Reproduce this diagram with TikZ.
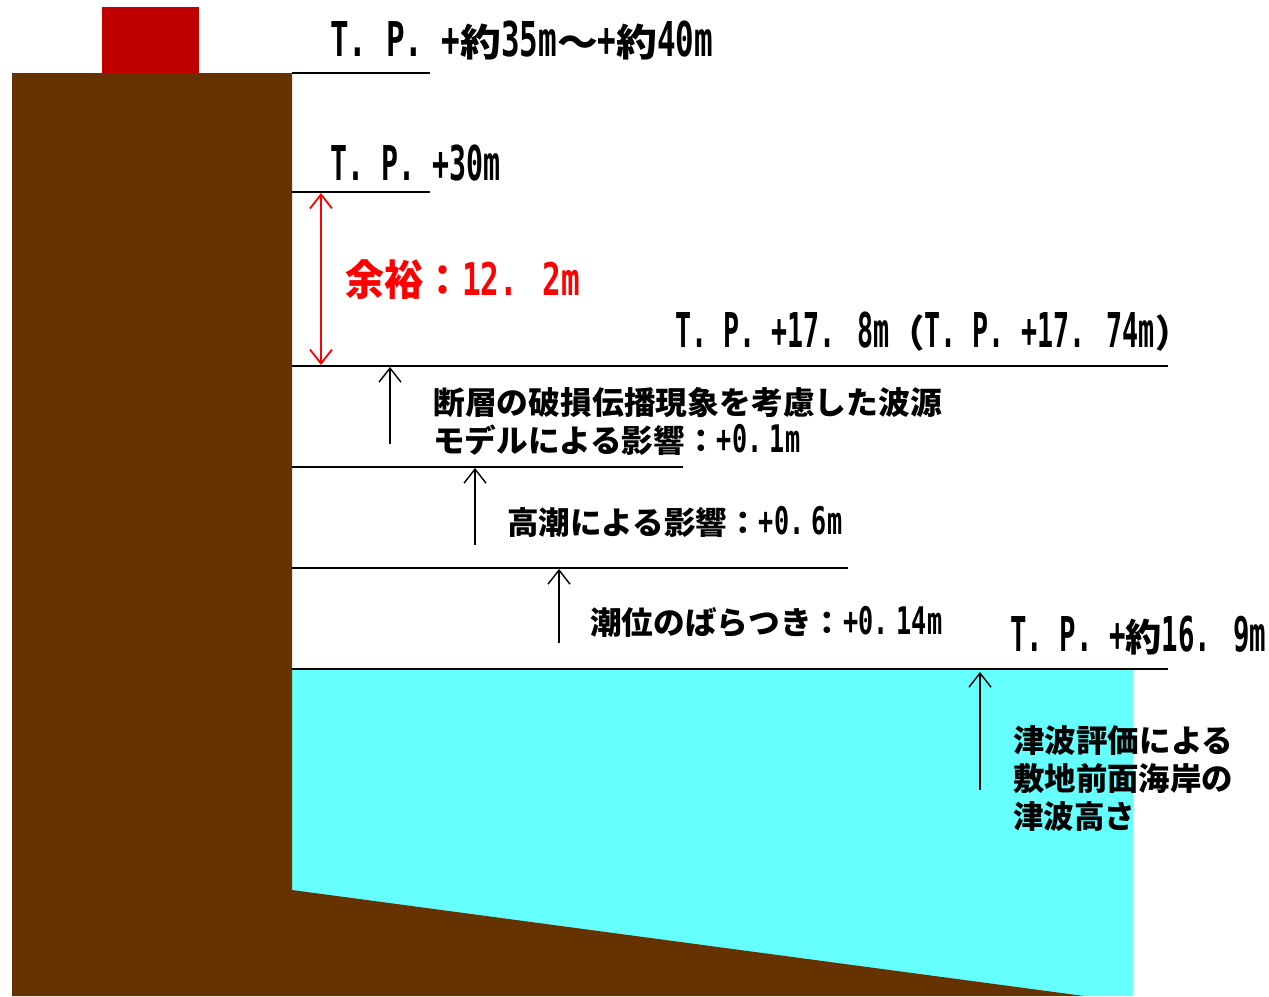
\documentclass[tikz,border=0pt]{standalone}
\usepackage{fontspec}
\usepackage{graphicx}
\setmainfont{Noto Sans CJK JP}
\newfontfamily\monof{DejaVu Sans Mono}
\usetikzlibrary{arrows.meta}
\definecolor{soil}{HTML}{663300}
\definecolor{sea}{HTML}{66FFFF}
\definecolor{bldg}{HTML}{C00000}
\newcommand\fitx[2]{\resizebox{#1}{\height}{#2}}
\newcommand\lat[3]{\scalebox{#2}[1]{\fontsize{#1}{#1}\selectfont\monof #3}}
\newcommand\tplat[1]{\lat{48}{0.6}{#1}}
\newcommand\lblat[1]{\lat{38}{0.66}{#1}}
\begin{document}
\begin{tikzpicture}[x=1pt,y=-1pt,
  lvl/.style={draw=black,line width=1.6pt},
  uparr/.style={-{Straight Barb[length=14pt,width=22pt,line width=1.4pt]},line width=1.4pt},
  redarr/.style={{Straight Barb[length=14pt,width=22pt,line width=1.8pt]}-{Straight Barb[length=14pt,width=22pt,line width=1.8pt]},line width=1.8pt,draw=red},
  tp/.style={anchor=west,inner sep=0pt,font=\bfseries\fontsize{38}{40}\selectfont},
  lbl/.style={anchor=west,inner sep=0pt,font=\bfseries\fontsize{31.5}{34}\selectfont}]
\useasboundingbox (0,0) rectangle (1269,996);
\fill[white] (0,0) rectangle (1269,996);
% sea and soil
\fill[sea] (292,670) rectangle (1133,996);
\fill[soil] (12,73) -- (292,73) -- (292,890) -- (1084,996) -- (12,996) -- cycle;
\fill[bldg] (102,7) rectangle (199,73);
% level lines
\coordinate (l1a) at (292,73);  \coordinate (l1b) at (430,73);
\coordinate (l2a) at (292,192); \coordinate (l2b) at (430,192);
\coordinate (l3a) at (292,366); \coordinate (l3b) at (1168,366);
\coordinate (l4a) at (292,467); \coordinate (l4b) at (683,467);
\coordinate (l5a) at (292,568); \coordinate (l5b) at (848,568);
\coordinate (l6a) at (292,669); \coordinate (l6b) at (1168,669);
\draw[lvl] (l1a) -- (l1b);
\draw[lvl] (l2a) -- (l2b);
\draw[lvl] (l3a) -- (l3b);
\draw[lvl] (l4a) -- (l4b);
\draw[lvl] (l5a) -- (l5b);
\draw[lvl] (l6a) -- (l6b);
% arrows
\coordinate (r1) at (321,193); \coordinate (r2) at (321,365);
\draw[redarr] (r1) -- (r2);
\coordinate (a1s) at (390,444); \coordinate (a1e) at (390,367);
\coordinate (a2s) at (475,545); \coordinate (a2e) at (475,468);
\coordinate (a3s) at (559,643); \coordinate (a3e) at (559,569);
\coordinate (a4s) at (980,790); \coordinate (a4e) at (980,672);
\draw[uparr] (a1s) -- (a1e);
\draw[uparr] (a2s) -- (a2e);
\draw[uparr] (a3s) -- (a3e);
\draw[uparr] (a4s) -- (a4e);
% texts
\node[tp] (t1) at (330,40) {\fitx{383pt}{\tplat{T. P. +}約\tplat{35m}～\tplat{+}約\tplat{40m}}};
\node[tp] (t2) at (330,163) {\fitx{170pt}{\tplat{T. P. +30m}}};
\node[anchor=west,inner sep=0pt,text=red,font=\bfseries\fontsize{42}{44}\selectfont] (t3) at (345,280) {\fitx{235pt}{余裕：\lat{45}{0.74}{12. 2m}}};
\node[tp] (t4) at (675,332) {\fitx{515pt}{\tplat{T. P. +17. 8m}（\tplat{T. P. +17. 74m}）}};
\node[lbl] (t5) at (433,403) {\fitx{509pt}{断層の破損伝播現象を考慮した波源}};
\node[lbl] (t6) at (433,440) {\fitx{367pt}{モデルによる影響：\lblat{+0.\kern0.3em 1m}}};
\node[lbl] (t7) at (507,522) {\fitx{335pt}{高潮による影響：\lblat{+0.\kern0.3em 6m}}};
\node[lbl] (t8) at (590,622) {\fitx{352pt}{潮位のばらつき：\lblat{+0.\kern0.3em 14m}}};
\node[tp] (t9) at (1010,636) {\fitx{256pt}{\tplat{T. P. +}約\tplat{16. 9m}}};
\node[lbl] (t10) at (1013,741) {\fitx{220pt}{津波評価による}};
\node[lbl] (t11) at (1013,778) {\fitx{220pt}{敷地前面海岸の}};
\node[lbl] (t12) at (1013,817) {\fitx{122pt}{津波高さ}};
\end{tikzpicture}
\end{document}
